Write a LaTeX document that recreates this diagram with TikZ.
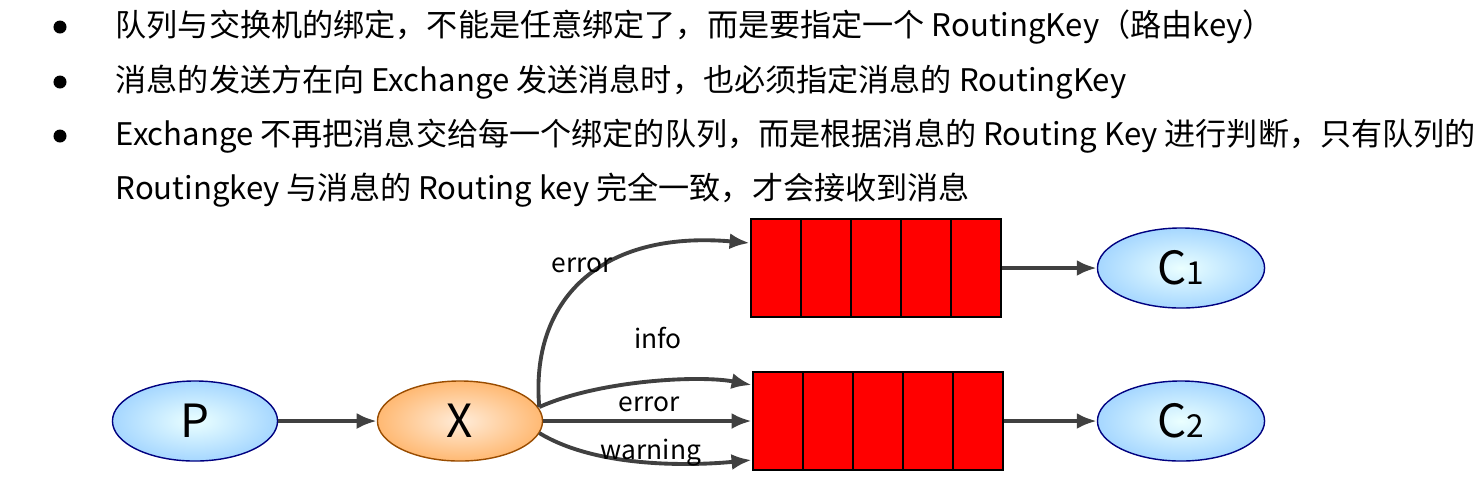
\documentclass[tikz,border=0pt]{standalone}
\usepackage{fontspec}
\setmainfont{Noto Sans CJK SC}
\usetikzlibrary{arrows.meta,shapes.geometric}
\begin{document}
\begin{tikzpicture}[x=0.01cm,y=-0.01cm,
  txt/.style={anchor=west,inner sep=0,font=\fontsize{8.85pt}{10pt}\selectfont},
  blt/.style={circle,fill=black,inner sep=0,minimum size=0.13cm},
  ell/.style={ellipse,draw,minimum width=1.65cm,minimum height=0.8cm,inner sep=0,font=\fontsize{13pt}{15pt}\selectfont},
  pe/.style={ell,draw=blue!50!black,inner color=cyan!8,outer color=cyan!55!blue!35},
  xe/.style={ell,draw=orange!60!black,inner color=orange!15,outer color=orange!55},
  cell/.style={draw=black,fill=red,minimum width=0.5cm,minimum height=0.98cm,inner sep=0,line width=0.8pt},
  arr/.style={-{Latex[length=0.2cm,width=0.16cm]},line width=1.1pt,draw=black!75},
  lab/.style={font=\fontsize{7.5pt}{9pt}\selectfont,inner sep=0}]
\useasboundingbox (0,0) rectangle (1483,493);
\node[blt] (b1) at (60,27) {}; \node[txt] (t1) at (115,27) {队列与交换机的绑定，不能是任意绑定了，而是要指定一个 RoutingKey（路由key）};
\node[blt] (b2) at (60,82) {}; \node[txt] (t2) at (115,82) {消息的发送方在向 Exchange 发送消息时，也必须指定消息的 RoutingKey};
\node[blt] (b3) at (60,136) {}; \node[txt] (t3) at (115,136) {Exchange 不再把消息交给每一个绑定的队列，而是根据消息的 Routing Key 进行判断，只有队列的};
\node[txt] (t4) at (115,190) {Routingkey 与消息的 Routing key 完全一致，才会接收到消息};
\foreach \i in {0,...,4}{
  \node[cell] (qa\i) at (776+\i*50,268) {};
  \node[cell] (qb\i) at (778+\i*50,421) {};
}
\node[pe] (P) at (195,421) {P};
\node[xe] (X) at (460,421) {X};
\node[pe,minimum width=1.67cm] (C1) at (1181,268) {C\fontsize{9pt}{10pt}\selectfont 1};
\node[pe,minimum width=1.67cm] (C2) at (1181,421) {C\fontsize{9pt}{10pt}\selectfont 2};
\draw[arr] (P) -- (X);
\draw[arr] (qa4.east) -- (C1);
\draw[arr] (qb4.east) -- (C2);
\draw[arr] (X.east) ++(-4,-14) coordinate (x1) .. controls (530,300) and (600,230) .. (qa0.west |- 0,243);
\draw[arr] (x1) .. controls (600,380) and (700,375) .. (qb0.west |- 0,385);
\draw[arr] (X.east) -- (qb0.west);
\draw[arr] (X.east) ++(-4,12) coordinate (x2) .. controls (600,470) and (700,465) .. (qb0.west |- 0,460);
\node[lab] (l1) at (582,265) {error};
\node[lab] (l2) at (658,338) {info};
\node[lab] (l3) at (649,404) {error};
\node[lab] (l4) at (651,453) {warning};
\end{tikzpicture}
\end{document}
